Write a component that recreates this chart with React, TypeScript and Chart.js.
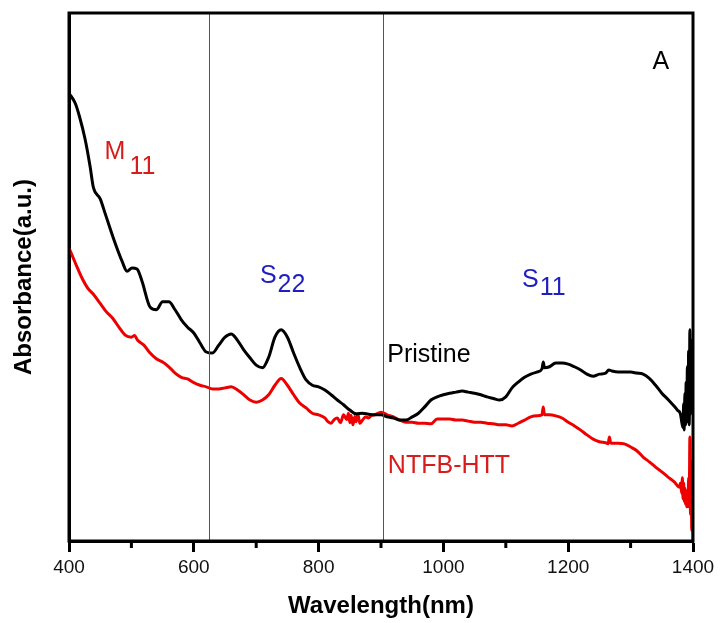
import { useEffect, useRef } from 'react';
import { Chart, registerables } from 'chart.js';

Chart.register(...registerables);

const FONT = '"Liberation Sans", Arial, sans-serif';

const pristineWavelength = [
  400, 410, 417, 426, 434, 439, 450, 458, 471, 485, 493, 501, 509, 517, 530, 540, 550, 560, 570, 580,
  590, 600, 610, 620, 630, 640, 650, 660, 670, 680, 690, 700, 710, 720, 730, 740, 750, 760, 770, 780,
  790, 800, 810, 820, 830, 840, 850, 860, 870, 880, 890, 900, 910, 920, 930, 940, 950, 960, 970, 980,
  990, 1000, 1010, 1020, 1030, 1040, 1050, 1060, 1070, 1080, 1090, 1100, 1110, 1120, 1130, 1140, 1150,
  1158, 1160, 1162, 1170, 1180, 1190, 1200, 1210, 1220, 1230, 1240, 1250, 1260, 1265, 1270, 1280, 1290,
  1300, 1310, 1320, 1330, 1340, 1350, 1360, 1370, 1375, 1380, 1382, 1384, 1385, 1386, 1387, 1388, 1389,
  1390, 1391, 1392, 1393, 1394, 1395, 1396, 1397, 1398, 1399, 1400,
];
const pristineAbs = [
  84.8, 82.9, 80.3, 76.0, 70.8, 67.0, 64.8, 62.0, 57.4, 53.0, 51.1, 51.7, 51.5, 49.2, 44.3, 43.8, 45.3, 45.3, 43.8, 41.9,
  40.5, 39.4, 37.5, 35.8, 35.6, 37.1, 38.6, 39.2, 38.0, 36.2, 34.7, 33.3, 32.8, 34.8, 38.6, 40.0, 38.6, 35.6, 32.8, 30.5,
  29.5, 29.2, 28.6, 27.7, 26.7, 25.8, 24.8, 24.1, 24.2, 24.0, 23.9, 23.9, 23.5, 23.3, 22.9, 22.9, 23.5, 24.2, 25.4, 26.7,
  27.3, 27.7, 28.0, 28.2, 28.4, 28.2, 28.0, 27.7, 27.3, 27.0, 26.7, 27.3, 29.0, 30.1, 31.0, 31.6, 32.0,
  32.6, 33.9, 32.8, 33.0, 33.7, 33.7, 33.5, 33.0, 32.4, 31.6, 31.2, 31.6, 31.8, 32.4, 32.2, 32.0, 32.0,
  32.0, 31.8, 31.6, 30.8, 29.5, 28.0, 26.8, 25.5, 24.8, 24.0, 22.5, 21.5, 26.0, 21.0, 28.0, 22.0, 30.0,
  22.5, 33.0, 23.0, 36.0, 22.0, 40.0, 24.0, 38.0, 26.0, 34.0, 30.0,
];

const ntfbWavelength = [
  400, 410, 420, 430, 440, 450, 460, 470, 480, 490, 500, 505, 510, 520, 530, 540, 550, 560, 570, 580,
  590, 600, 610, 620, 630, 640, 650, 660, 670, 680, 690, 700, 710, 720, 730, 740, 750, 760, 770, 780,
  790, 800, 810, 815, 820, 825, 830, 835, 840, 845, 848, 850, 852, 855, 858, 860, 863, 866, 870, 875,
  880, 885, 890, 900, 910, 920, 930, 940, 950, 960, 970, 980, 990, 1000, 1010, 1020, 1030, 1040, 1050,
  1060, 1070, 1080, 1090, 1100, 1110, 1120, 1130, 1140, 1150, 1158, 1160, 1162, 1170, 1180, 1190, 1200,
  1210, 1220, 1230, 1240, 1250, 1260, 1264, 1266, 1268, 1270, 1280, 1290, 1300, 1310, 1320, 1330, 1340,
  1350, 1360, 1370, 1378, 1380, 1382, 1383, 1384, 1385, 1386, 1387, 1388, 1389, 1390, 1391, 1392, 1393,
  1394, 1395, 1396, 1397, 1398, 1399, 1400,
];
const ntfbAbs = [
  55.5, 52.7, 50.0, 47.9, 46.6, 45.0, 43.4, 42.2, 40.5, 39.0, 38.6, 38.9, 38.0, 37.1, 35.6, 34.5, 33.9, 33.0, 31.8, 31.0,
  30.7, 30.0, 29.5, 29.2, 28.8, 28.8, 29.0, 29.2, 28.6, 27.7, 26.7, 26.3, 26.7, 27.7, 29.5, 30.8, 29.5, 27.7, 26.1, 25.2,
  24.2, 23.9, 23.3, 22.6, 22.3, 23.0, 23.3, 22.4, 23.9, 23.0, 24.2, 22.4, 23.8, 22.0, 23.6, 22.6, 24.0, 22.3, 22.8, 23.5,
  23.3, 23.8, 23.9, 24.4, 23.9, 23.5, 22.9, 22.5, 22.5, 22.3, 22.3, 22.2, 23.1, 23.1, 23.1, 22.9, 22.9, 22.7, 22.5,
  22.5, 22.3, 22.2, 22.0, 22.0, 21.8, 22.3, 22.9, 23.5, 23.7, 23.9, 25.4, 23.9, 23.9, 23.7, 23.3, 22.5,
  21.8, 21.0, 20.1, 19.3, 18.8, 18.6, 18.4, 19.7, 18.6, 18.5, 18.5, 18.4, 17.8, 17.1, 15.9, 15.0, 14.0,
  13.1, 12.1, 11.2, 10.2, 11.0, 9.0, 12.0, 8.0, 11.0, 7.5, 10.0, 7.0, 9.5, 6.5, 9.0, 6.5, 12.0,
  8.0, 19.7, 5.0, 15.0, 2.0, 10.0, 0.0,
];

const xTickValues = [400, 600, 800, 1000, 1200, 1400];
const xMinorTickValues = [500, 700, 900, 1100, 1300];
const markerWavelengths = [625, 903];

type Note = { x: number; y: number; text: string; sub?: string; gap?: number; drop?: number; color: string };
const notes: Note[] = [
  { x: 457, y: 72.3, text: 'M', sub: '11', gap: 4, drop: 15, color: '#d61c1c' },
  { x: 706, y: 48.9, text: 'S', sub: '22', gap: 1, drop: 9, color: '#1f1fbf' },
  { x: 1126, y: 48.1, text: 'S', sub: '11', gap: 1, drop: 8, color: '#1f1fbf' },
  { x: 1335, y: 89.4, text: 'A', color: '#000000' },
  { x: 910, y: 33.9, text: 'Pristine', color: '#000000' },
  { x: 911, y: 12.9, text: 'NTFB-HTT', color: '#d61c1c' },
];

const decorPlugin = {
  id: 'decor',
  afterDatasetsDraw(chart: any) {
    const { ctx, chartArea, scales } = chart;
    const xs = scales.x;
    const ys = scales.y;
    ctx.save();
    ctx.strokeStyle = '#555555';
    ctx.lineWidth = 1;
    markerWavelengths.forEach((w) => {
      const px = Math.round(xs.getPixelForValue(w)) + 0.5;
      ctx.beginPath();
      ctx.moveTo(px, chartArea.top);
      ctx.lineTo(px, chartArea.bottom);
      ctx.stroke();
    });
    ctx.strokeStyle = '#000000';
    ctx.lineWidth = 3;
    ctx.strokeRect(chartArea.left, chartArea.top, chartArea.right - chartArea.left, chartArea.bottom - chartArea.top);
    xMinorTickValues.forEach((w) => {
      const px = xs.getPixelForValue(w);
      ctx.beginPath();
      ctx.moveTo(px, chartArea.bottom);
      ctx.lineTo(px, chartArea.bottom + 7);
      ctx.stroke();
    });
    ctx.textBaseline = 'alphabetic';
    ctx.textAlign = 'left';
    notes.forEach((n) => {
      const px = xs.getPixelForValue(n.x);
      const py = ys.getPixelForValue(n.y);
      ctx.fillStyle = n.color;
      ctx.font = `25px ${FONT}`;
      ctx.fillText(n.text, px, py);
      if (n.sub) {
        const w = ctx.measureText(n.text).width;
        ctx.font = `25px ${FONT}`;
        ctx.fillText(n.sub, px + w + (n.gap || 0), py + (n.drop || 0));
      }
    });
    ctx.restore();
  },
};

export default function App() {
  const canvasRef = useRef<HTMLCanvasElement | null>(null);

  useEffect(() => {
    if (!canvasRef.current) return;
    const chart = new Chart(canvasRef.current, {
      type: 'line',
      data: {
        datasets: [
          {
            label: 'Pristine',
            data: pristineWavelength.map((w, i) => ({ x: w, y: pristineAbs[i] })),
            borderColor: '#000000',
            borderWidth: 3,
            pointRadius: 0,
            cubicInterpolationMode: 'monotone',
            fill: false,
          },
          {
            label: 'NTFB-HTT',
            data: ntfbWavelength.map((w, i) => ({ x: w, y: ntfbAbs[i] })),
            borderColor: '#ee0000',
            borderWidth: 3,
            pointRadius: 0,
            cubicInterpolationMode: 'monotone',
            fill: false,
          },
        ],
      },
      options: {
        animation: false,
        responsive: false,
        maintainAspectRatio: false,
        layout: { padding: { top: 13, right: 27, left: 0, bottom: 0 } },
        plugins: { legend: { display: false }, tooltip: { enabled: false } },
        scales: {
          x: {
            type: 'linear',
            min: 400,
            max: 1400,
            afterBuildTicks: (s: any) => {
              s.ticks = xTickValues.map((v) => ({ value: v }));
            },
            afterFit: (s: any) => {
              s.height = 82;
            },
            ticks: {
              font: { family: FONT, size: 19 },
              color: '#111111',
              padding: 4,
              maxRotation: 0,
              autoSkip: false,
              callback: (v: any) => String(v),
            },
            grid: {
              display: true,
              drawOnChartArea: false,
              drawTicks: true,
              tickLength: 11,
              tickWidth: 3,
              tickColor: '#000000',
            },
            border: { display: true, width: 3, color: '#000000' },
            title: {
              display: true,
              text: 'Wavelength(nm)',
              color: '#000000',
              font: { family: FONT, size: 24, weight: 'bold' },
              padding: { top: 0, bottom: 2 },
            },
          },
          y: {
            type: 'linear',
            min: 0,
            max: 100,
            afterFit: (s: any) => {
              s.width = 69;
            },
            ticks: { display: false },
            grid: { display: false },
            border: { display: true, width: 3, color: '#000000' },
            title: {
              display: true,
              text: 'Absorbance(a.u.)',
              color: '#000000',
              font: { family: FONT, size: 24, weight: 'bold' },
              padding: { top: 10, bottom: 0 },
            },
          },
        },
      },
      plugins: [decorPlugin],
    });
    return () => chart.destroy();
  }, []);

  return (
    <div style={{ position: 'absolute', left: 0, top: 0, width: 720, height: 623, background: '#ffffff' }}>
      <canvas ref={canvasRef} width={720} height={623} />
    </div>
  );
}
